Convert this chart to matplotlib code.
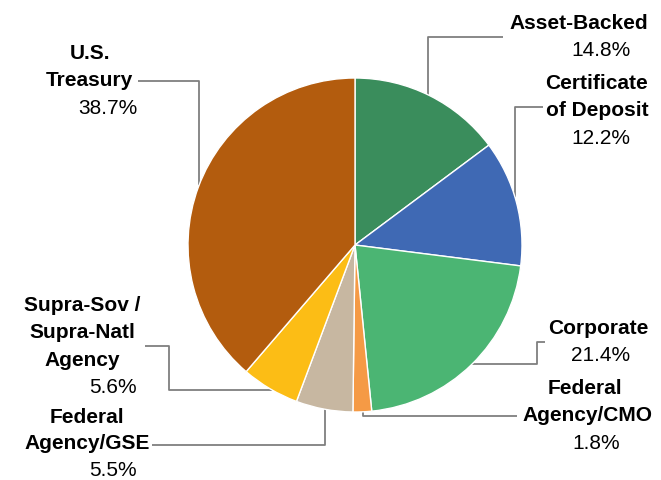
import numpy as np
import matplotlib
matplotlib.use("Agg")
import matplotlib.pyplot as plt

# ---- data ----
categories = ["Asset-Backed", "Certificate of Deposit", "Corporate", "Federal Agency/CMO",
              "Federal Agency/GSE", "Supra-Sov / Supra-Natl Agency", "U.S. Treasury"]
label_lines = [["Asset-Backed"], ["Certificate", "of Deposit"], ["Corporate"],
               ["Federal", "Agency/CMO"], ["Federal", "Agency/GSE"],
               ["Supra-Sov /", "Supra-Natl", "Agency"], ["U.S.", "Treasury"]]
values = [14.8, 12.2, 21.4, 1.8, 5.5, 5.6, 38.7]
colors = ["#3a8d5c", "#3f69b4", "#4bb573", "#f59a45", "#c7b7a1", "#fcbd15", "#b35c0e"]

W, H = 661, 481
fig = plt.figure(figsize=(W / 100, H / 100), dpi=100)
ax = fig.add_axes([0, 0, 1, 1])

def Y(py):
    return H - py

cx, cy, r = 355, 246, 167
ax.pie(values, colors=colors, startangle=90, counterclock=False, center=(cx, Y(cy)),
       radius=r, wedgeprops=dict(edgecolor="white", linewidth=1.0), frame=True)
ax.set_xlim(0, W)
ax.set_ylim(0, H)
ax.set_aspect("equal")
ax.axis("off")

# ---- layout (pixel coords) ----
layout = {
    0: dict(xs=[579], vx=601, y0=29, pitch=27.5),
    1: dict(xs=[597, 597], vx=601, y0=89, pitch=27.5),
    2: dict(xs=[598], vx=601, y0=334, pitch=27.5),
    3: dict(xs=[585, 587], vx=596, y0=394, pitch=27.5),
    4: dict(xs=[87, 87], vx=113, y0=423, pitch=26.5),
    5: dict(xs=[82, 82, 82], vx=113, y0=311, pitch=27.5),
    6: dict(xs=[90, 89], vx=108, y0=59, pitch=27.5),
}
fs = 15
for i, lines in enumerate(label_lines):
    L = layout[i]
    p = L["pitch"]
    for k, (t, x) in enumerate(zip(lines, L["xs"])):
        ax.text(x, Y(L["y0"] + k * p), t, ha="center", va="baseline",
                fontsize=fs, fontweight="bold", family="Liberation Sans", color="#000000")
    ax.text(L["vx"], Y(L["y0"] + len(lines) * p), f"{values[i]:.1f}%", ha="center",
            va="baseline", fontsize=fs, family="Liberation Sans", color="#000000")

def edge_y(x, side):
    d = np.sqrt(r ** 2 - (x - cx) ** 2)
    return cy - d if side == "top" else cy + d

def edge_x(y, side):
    d = np.sqrt(r ** 2 - (y - cy) ** 2)
    return cx - d if side == "left" else cx + d

leaders = [
    [(503, 37.5), (428, 37.5), (428, edge_y(428, "top"))],
    [(543, 108), (515, 108), (515, edge_y(515, "top"))],
    [(545, 343), (537, 343), (537, 365), (edge_x(365, "right"), 365)],
    [(517, 417), (363, 417), (363, edge_y(363, "bottom"))],
    [(152, 446), (325, 446), (325, edge_y(325, "bottom"))],
    [(145, 347), (169, 347), (169, 391), (edge_x(391, "left"), 391)],
    [(138, 82), (199, 82), (199, edge_y(199, "top"))],
]
for pts in leaders:
    xs = [p[0] for p in pts]
    ys = [Y(p[1]) for p in pts]
    ax.plot(xs, ys, color="#7f7f7f", lw=1.3, solid_capstyle="butt", zorder=0.5)

fig.savefig("out.png", dpi=100)
